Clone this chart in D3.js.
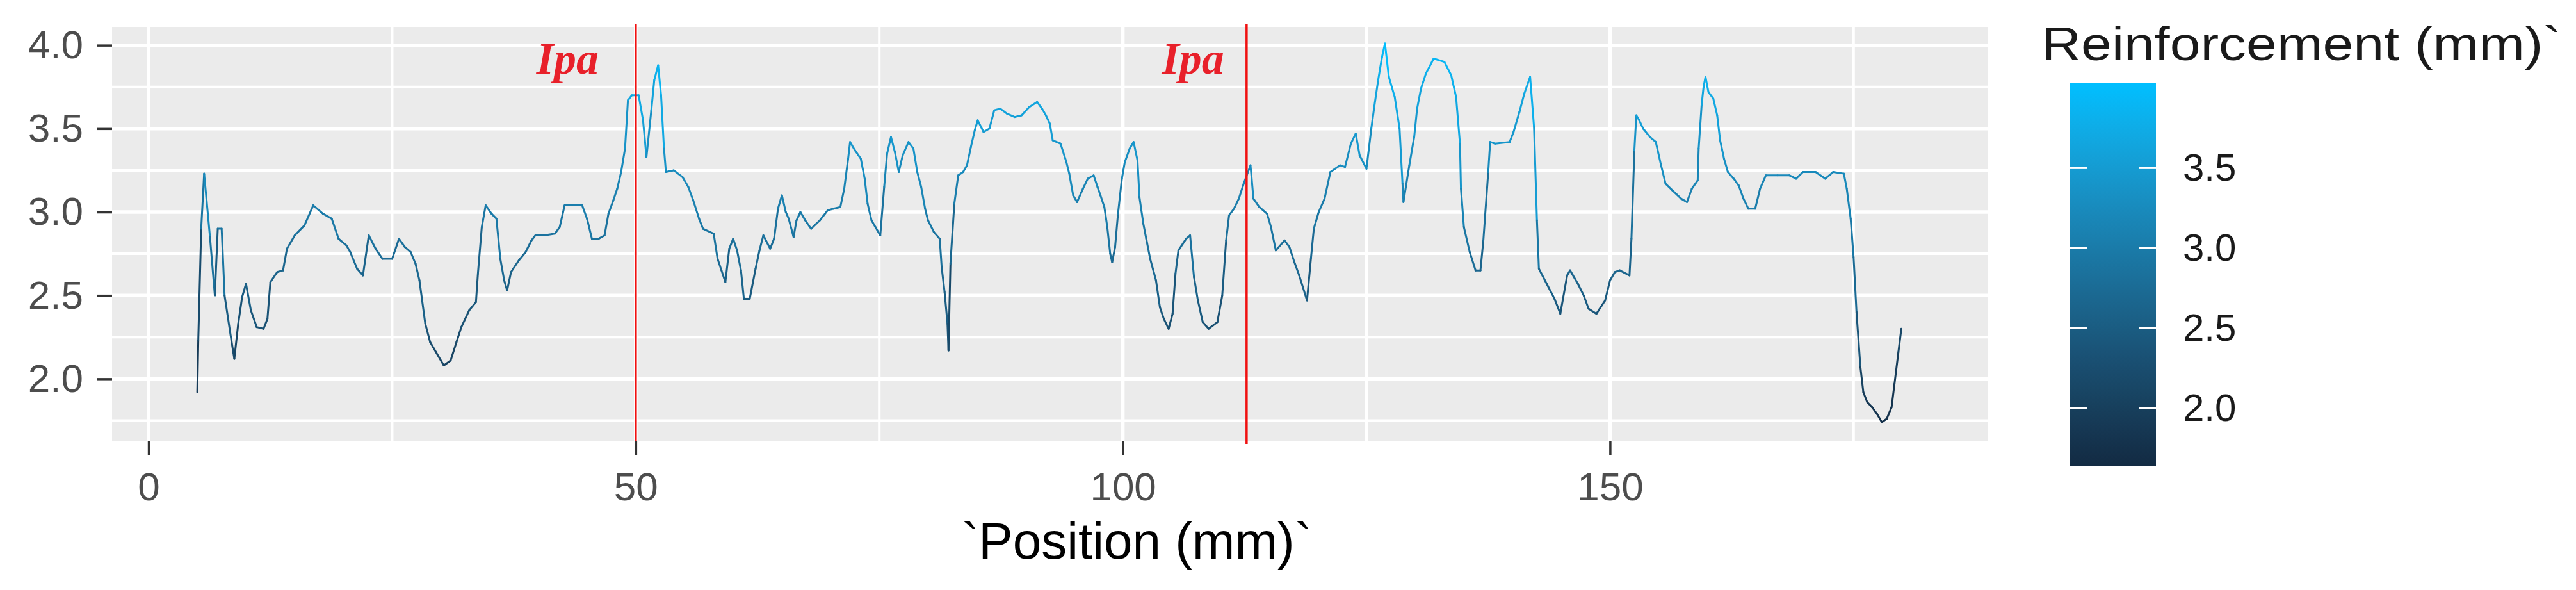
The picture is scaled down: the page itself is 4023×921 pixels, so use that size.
<!DOCTYPE html>
<html>
<head>
<meta charset="utf-8">
<script src="https://cdn.jsdelivr.net/npm/d3@7"></script>
<style>
  body { margin: 0; background: #fff; }
  svg { display: block; font-family: "Liberation Sans", Arial, sans-serif; }
</style>
</head>
<body>
<svg id="svg" width="4023" height="921"></svg>
<script>
// position along the weld (mm) and reinforcement height (mm)
const position = [
  5.0, 5.1, 5.4, 5.7, 6.3, 6.8, 7.1, 7.5, 7.8, 8.5, 8.8, 9.2, 9.6, 10.0, 10.5, 11.1, 11.8, 12.2, 12.5, 13.2,
  13.8, 14.2, 15.0, 16.0, 16.9, 17.9, 18.8, 19.5, 20.3, 20.7, 21.4, 22.0, 22.6, 23.3, 24.0, 25.0, 25.7, 26.3,
  26.9, 27.4, 27.8, 28.4, 28.9, 29.5, 30.3, 31.0, 31.6, 32.1, 32.9, 33.6, 33.8, 34.2, 34.6, 35.2, 35.7, 36.1,
  36.5, 36.8, 37.2, 38.0, 38.7, 39.3, 39.7, 40.6, 41.7, 42.2, 42.7, 43.6, 44.5, 45.0, 45.5, 46.2, 46.8, 47.2,
  47.7, 48.1, 48.5, 48.9, 49.2, 49.6, 50.3, 50.75, 51.1, 51.6, 51.9, 52.3, 52.6, 52.9, 53.1, 53.9, 54.8, 55.4,
  55.9, 56.5, 56.9, 58.0, 58.4, 58.8, 59.2, 59.6, 60.0, 60.4, 60.8, 61.1, 61.7, 62.3, 62.7, 63.1, 63.8, 64.2,
  64.6, 65.0, 65.4, 65.7, 66.2, 66.5, 66.9, 67.4, 68.0, 68.9, 69.7, 70.3, 71.0, 71.4, 71.8, 72.0, 72.5, 73.1,
  73.5, 73.8, 74.2, 74.6, 75.1, 75.5, 75.8, 76.2, 76.6, 77.0, 77.4, 78.0, 78.5, 78.9, 79.3, 79.7, 80.0, 80.6,
  81.2, 81.4, 81.7, 82.0, 82.1, 82.3, 82.7, 83.1, 83.6, 84.0, 84.4, 84.8, 85.1, 85.7, 86.3, 86.8, 87.4, 88.1,
  88.9, 89.6, 90.4, 91.2, 91.7, 92.1, 92.5, 92.8, 93.6, 94.2, 94.5, 94.9, 95.3, 95.9, 96.4, 97.0, 97.4, 97.7,
  98.1, 98.4, 98.7, 98.9, 99.2, 99.5, 99.9, 100.2, 100.7, 101.1, 101.5, 101.7, 102.1, 102.4, 102.8, 103.4,
  103.8, 104.2, 104.7, 105.1, 105.4, 105.7, 106.5, 106.9, 107.3, 107.7, 108.2, 108.8, 109.7, 110.2, 110.6,
  110.9, 111.4, 111.9, 112.4, 113.1, 113.4, 114.0, 114.8, 115.2, 115.7, 116.6, 117.1, 117.6, 118.1, 118.9,
  119.3, 119.6, 120.1, 120.7, 121.3, 122.3, 122.8, 123.4, 123.9, 124.3, 125.0, 125.5, 125.8, 126.2, 126.6,
  126.9, 127.3, 127.9, 128.4, 128.7, 128.8, 129.4, 129.9, 130.2, 130.6, 131.1, 131.9, 133.0, 133.7, 134.2,
  134.6, 134.7, 135.0, 135.6, 136.2, 136.7, 137.0, 137.5, 137.7, 138.2, 139.7, 140.1, 140.7, 141.2, 141.8,
  142.2, 142.5, 142.7, 143.5, 144.3, 144.9, 145.6, 145.9, 146.7, 147.3, 147.8, 148.6, 149.5, 150.0, 150.5,
  151.0, 152.0, 152.2, 152.5, 152.7, 153.0, 153.4, 154.1, 154.7, 155.2, 155.7, 156.4, 157.3, 157.9, 158.4,
  159.0, 159.1, 159.4, 159.6, 159.8, 160.1, 160.6, 161.0, 161.3, 161.7, 162.1, 162.7, 163.2, 163.7, 164.2,
  164.9, 165.4, 166.0, 167.2, 168.4, 169.1, 169.8, 171.1, 172.1, 172.9, 174.0, 174.3, 174.7, 175.0, 175.3,
  175.7, 176.0, 176.4, 176.9, 177.4, 177.9, 178.4, 178.9, 179.2, 179.6, 179.9
];
const reinforcement = [
  1.92, 2.23, 2.90, 3.23, 2.85, 2.50, 2.90, 2.90, 2.50, 2.23, 2.12, 2.33, 2.49, 2.57, 2.41, 2.31, 2.30, 2.36, 2.58, 2.64,
  2.65, 2.78, 2.86, 2.92, 3.04, 2.99, 2.96, 2.84, 2.80, 2.76, 2.66, 2.62, 2.86, 2.78, 2.72, 2.72, 2.84, 2.79,
  2.76, 2.69, 2.59, 2.33, 2.22, 2.16, 2.08, 2.11, 2.22, 2.31, 2.41, 2.46, 2.63, 2.91, 3.04, 2.99, 2.96, 2.72,
  2.59, 2.53, 2.64, 2.71, 2.76, 2.83, 2.86, 2.86, 2.87, 2.91, 3.04, 3.04, 3.04, 2.96, 2.84, 2.84, 2.86, 2.99,
  3.07, 3.14, 3.24, 3.38, 3.67, 3.70, 3.70, 3.55, 3.33, 3.61, 3.79, 3.88, 3.70, 3.38, 3.24, 3.25, 3.21, 3.15,
  3.07, 2.96, 2.90, 2.87, 2.72, 2.65, 2.58, 2.78, 2.84, 2.77, 2.65, 2.48, 2.48, 2.66, 2.77, 2.86, 2.78, 2.84,
  3.02, 3.10, 3.00, 2.96, 2.85, 2.95, 3.00, 2.95, 2.90, 2.95, 3.01, 3.02, 3.03, 3.14, 3.32, 3.42, 3.37, 3.32,
  3.20, 3.05, 2.95, 2.91, 2.86, 3.15, 3.35, 3.45, 3.36, 3.24, 3.34, 3.42, 3.38, 3.24, 3.15, 3.02, 2.95, 2.88,
  2.84, 2.67, 2.52, 2.33, 2.17, 2.69, 3.05, 3.22, 3.24, 3.28, 3.39, 3.49, 3.55, 3.48, 3.50, 3.61, 3.62, 3.59,
  3.57, 3.58, 3.63, 3.66, 3.62, 3.58, 3.53, 3.43, 3.41, 3.30, 3.23, 3.10, 3.06, 3.14, 3.20, 3.22, 3.15, 3.10,
  3.03, 2.91, 2.75, 2.70, 2.79, 2.99, 3.20, 3.30, 3.38, 3.42, 3.31, 3.09, 2.93, 2.84, 2.72, 2.59,
  2.43, 2.36, 2.30, 2.39, 2.63, 2.77, 2.84, 2.86, 2.61, 2.47, 2.34, 2.30, 2.34, 2.50, 2.83,
  2.98, 3.02, 3.08, 3.17, 3.28, 3.08, 3.03, 2.99, 2.91, 2.77, 2.83, 2.79, 2.70, 2.62, 2.47,
  2.72, 2.90, 3.00, 3.08, 3.24, 3.28, 3.27, 3.41, 3.47, 3.34, 3.26, 3.50, 3.63, 3.79, 3.93,
  4.01, 3.81, 3.69, 3.50, 3.17, 3.06, 3.28, 3.45, 3.62, 3.74, 3.83, 3.92, 3.90, 3.82, 3.69,
  3.41, 3.14, 2.91, 2.76, 2.65, 2.65, 2.83, 3.24, 3.42, 3.41, 3.42, 3.48, 3.60, 3.71, 3.81,
  3.51, 2.95, 2.66, 2.57, 2.48, 2.39, 2.62, 2.65, 2.57, 2.50, 2.42, 2.39, 2.47, 2.59, 2.64,
  2.65, 2.62, 2.84, 3.37, 3.58, 3.55, 3.50, 3.45, 3.42, 3.29, 3.17, 3.13, 3.08, 3.06, 3.14,
  3.19, 3.38, 3.64, 3.75, 3.81, 3.72, 3.68, 3.58, 3.43, 3.32, 3.24, 3.20, 3.16, 3.08, 3.02,
  3.02, 3.14, 3.22, 3.22, 3.22, 3.20, 3.24, 3.24, 3.20, 3.24, 3.23, 3.14, 2.96, 2.73, 2.40,
  2.07, 1.92, 1.86, 1.83, 1.79, 1.74, 1.76, 1.83, 1.97, 2.16, 2.30
];

const xMajor = [0, 50, 100, 150];
const xMinor = [25, 75, 125, 175];
const yMajor = [2.0, 2.5, 3.0, 3.5, 4.0];
const yMinor = [1.75, 2.25, 2.75, 3.25, 3.75];
const ipaLines = [50, 112.7];       // red marker lines
const ipaLabelX = [43, 107.2];      // where the "Ipa" labels sit
const ipaLabelY = 3.83;
const legendTicks = [2.0, 2.5, 3.0, 3.5];
const colorDomain = [1.64, 4.03];

var svg = d3.select("#svg");
var panel = { left: 175, right: 3104, top: 42, bottom: 689 };

let x = d3.scaleLinear().domain([-3.75, 188.75]).range([panel.left, panel.right]);
let y = d3.scaleLinear().domain([1.625, 4.11]).range([panel.bottom, panel.top]);
let color = d3.scaleLinear().domain(colorDomain).range(["#132B43", "#00BFFF"]).interpolate(d3.interpolateLab);

// panel background and grid
svg.append("rect")
  .attr("x", panel.left).attr("y", panel.top)
  .attr("width", panel.right - panel.left).attr("height", panel.bottom - panel.top)
  .style("fill", "#EBEBEB");

let grid = svg.append("g").style("stroke", "#fff");
grid.selectAll(".ymin").data(yMinor).enter().append("line")
  .attr("x1", panel.left).attr("x2", panel.right)
  .attr("y1", d => y(d)).attr("y2", d => y(d)).style("stroke-width", 4);
grid.selectAll(".xmin").data(xMinor).enter().append("line")
  .attr("y1", panel.top).attr("y2", panel.bottom)
  .attr("x1", d => x(d)).attr("x2", d => x(d)).style("stroke-width", 4);
grid.selectAll(".ymaj").data(yMajor).enter().append("line")
  .attr("x1", panel.left).attr("x2", panel.right)
  .attr("y1", d => y(d)).attr("y2", d => y(d)).style("stroke-width", 5.5);
grid.selectAll(".xmaj").data(xMajor).enter().append("line")
  .attr("y1", panel.top).attr("y2", panel.bottom)
  .attr("x1", d => x(d)).attr("x2", d => x(d)).style("stroke-width", 5.5);

// the profile, each segment coloured by its start value
let pts = position.map((p, i) => [p, reinforcement[i]]);
svg.append("g").selectAll("line").data(d3.pairs(pts)).enter().append("line")
  .attr("x1", d => x(d[0][0])).attr("y1", d => y(d[0][1]))
  .attr("x2", d => x(d[1][0])).attr("y2", d => y(d[1][1]))
  .style("stroke", d => color(d[0][1]))
  .style("stroke-width", 3)
  .style("stroke-linecap", "round");

// Ipa markers
svg.append("g").selectAll("line").data(ipaLines).enter().append("line")
  .attr("x1", d => x(d)).attr("x2", d => x(d))
  .attr("y1", panel.top - 4).attr("y2", panel.bottom + 4)
  .style("stroke", "#F01010").style("stroke-width", 3.5);

svg.append("g").selectAll("text").data(ipaLabelX).enter().append("text")
  .attr("x", d => x(d)).attr("y", y(ipaLabelY))
  .attr("text-anchor", "middle")
  .style("font-family", "'Liberation Serif', 'Times New Roman', serif")
  .style("font-style", "italic").style("font-weight", "bold")
  .style("font-size", "70px").style("fill", "#E8202A")
  .text("Ipa");

// axes
let yAxis = svg.append("g").attr("transform", `translate(${panel.left},0)`)
  .call(d3.axisLeft(y).tickValues(yMajor).tickFormat(d3.format(".1f")).tickSize(24).tickPadding(21));
let xAxis = svg.append("g").attr("transform", `translate(0,${panel.bottom})`)
  .call(d3.axisBottom(x).tickValues(xMajor).tickSize(22).tickPadding(26));
[xAxis, yAxis].forEach(a => {
  a.select(".domain").remove();
  a.selectAll(".tick line").style("stroke", "#333").style("stroke-width", 3.5);
  a.selectAll(".tick text").style("font-size", "62px").style("fill", "#4D4D4D")
    .style("font-family", "'Liberation Sans', Arial, sans-serif");
});

svg.append("text")
  .attr("x", 1775).attr("y", 872)
  .attr("text-anchor", "middle")
  .style("font-size", "80px").style("fill", "#000")
  .text("`Position (mm)`");

// colour bar legend
let bar = { left: 3232, right: 3367, top: 130, bottom: 727 };
let ly = d3.scaleLinear().domain(colorDomain).range([bar.bottom, bar.top]);

let grad = svg.append("defs").append("linearGradient")
  .attr("id", "cbar").attr("x1", 0).attr("y1", 1).attr("x2", 0).attr("y2", 0);
grad.selectAll("stop").data(d3.range(0, 1.0001, 0.05)).enter().append("stop")
  .attr("offset", d => d)
  .attr("stop-color", d => color(colorDomain[0] + d * (colorDomain[1] - colorDomain[0])));

svg.append("rect")
  .attr("x", bar.left).attr("y", bar.top)
  .attr("width", bar.right - bar.left).attr("height", bar.bottom - bar.top)
  .style("fill", "url(#cbar)");

let tickLen = (bar.right - bar.left) / 5;
let lt = svg.append("g").style("stroke", "#fff").style("stroke-width", 3);
lt.selectAll(".l").data(legendTicks).enter().append("line")
  .attr("x1", bar.left).attr("x2", bar.left + tickLen)
  .attr("y1", d => ly(d)).attr("y2", d => ly(d));
lt.selectAll(".r").data(legendTicks).enter().append("line")
  .attr("x1", bar.right - tickLen).attr("x2", bar.right)
  .attr("y1", d => ly(d)).attr("y2", d => ly(d));

let lAxis = svg.append("g").attr("transform", `translate(${bar.right},0)`)
  .call(d3.axisRight(ly).tickValues(legendTicks).tickFormat(d3.format(".1f")).tickSize(0).tickPadding(42));
lAxis.select(".domain").remove();
lAxis.selectAll(".tick text").style("font-size", "60px").style("fill", "#1A1A1A")
  .style("font-family", "'Liberation Sans', Arial, sans-serif");

svg.append("text")
  .attr("x", 3188).attr("y", 94)
  .attr("textLength", 812).attr("lengthAdjust", "spacingAndGlyphs")
  .style("font-size", "74px").style("fill", "#1A1A1A")
  .text("Reinforcement (mm)`");
</script>
</body>
</html>
